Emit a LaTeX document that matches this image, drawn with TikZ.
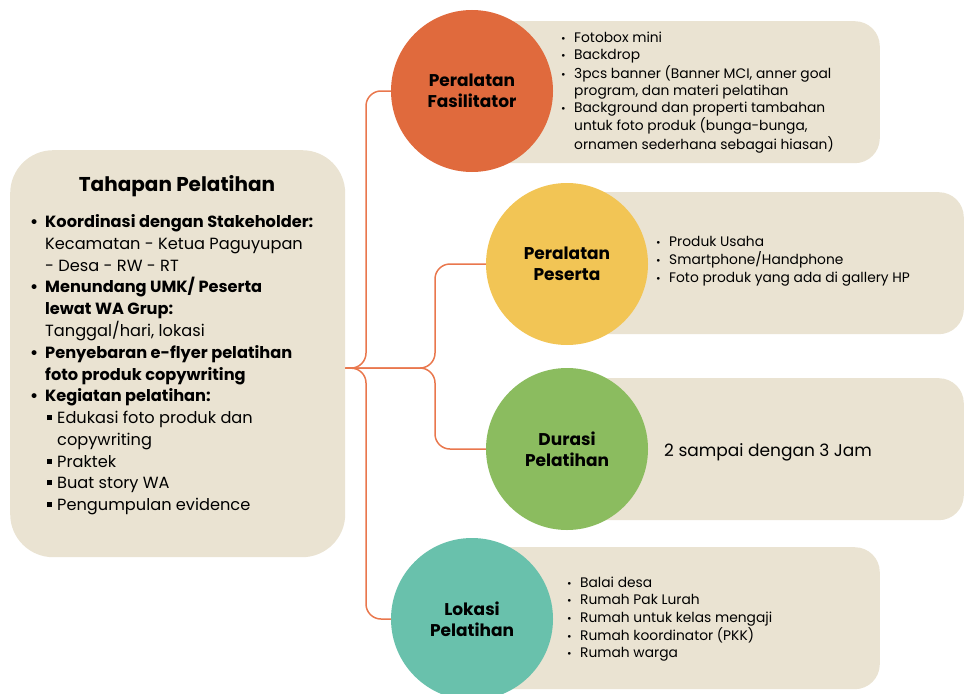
\documentclass[tikz,border=0pt]{standalone}
\usepackage{fontspec}
\setmainfont{Poppins}
\usetikzlibrary{calc}

\definecolor{krem}{HTML}{EAE3D2}
\definecolor{oranye}{HTML}{E06A3D}
\definecolor{kuning}{HTML}{F2C555}
\definecolor{hijau}{HTML}{8BBC5F}
\definecolor{tosca}{HTML}{69C1AC}
\definecolor{garis}{HTML}{E9774D}

\newcommand\bulbesar{{\bfseries\textbullet}}
\newcommand\bulkotak{\hspace*{2pt}\rule[0.22em]{0.3em}{0.3em}}
\newcommand\bulkecil{{\fontsize{11}{11}\selectfont\textbullet}}

\begin{document}
\begin{tikzpicture}[x=1pt,y=-1pt]
\tikzstyle{kotak}=[fill=krem,rounded corners=25pt,inner sep=0pt];
\tikzstyle{bulat}=[circle,inner sep=0pt,minimum size=162pt,align=center,font=\fontsize{17}{21}\selectfont\bfseries];
\tikzstyle{daftar}=[inner sep=0pt,anchor=base west,font=\fontsize{13.8}{17.4}\selectfont];
\tikzstyle{cabang}=[draw=garis,line width=1.5pt,rounded corners=15pt];

\useasboundingbox (0,0) rectangle (965,693);

% kotak kiri
\node[kotak,rounded corners=43pt,minimum width=335pt,minimum height=407pt,anchor=north west] (tahap) at (10,150) {};
\node[font=\fontsize{20}{24}\selectfont\bfseries] (judul) at (177,186) {Tahapan Pelatihan};
\node[inner sep=0pt,anchor=base west,font=\fontsize{16.2}{21.77}\selectfont] (tahapisi) at (30,227.5) {%
\begin{tabular}[t]{@{}p{15pt}@{}p{12pt}@{}l@{}}
\bulbesar & \multicolumn{2}{@{}l@{}}{\bfseries Koordinasi dengan Stakeholder:}\\
 & \multicolumn{2}{@{}l@{}}{Kecamatan - Ketua Paguyupan}\\
 & \multicolumn{2}{@{}l@{}}{- Desa - RW - RT}\\
\bulbesar & \multicolumn{2}{@{}l@{}}{\bfseries Menundang UMK/ Peserta}\\
 & \multicolumn{2}{@{}l@{}}{\bfseries lewat WA Grup:}\\
 & \multicolumn{2}{@{}l@{}}{Tanggal/hari, lokasi}\\
\bulbesar & \multicolumn{2}{@{}l@{}}{\bfseries Penyebaran e-flyer pelatihan}\\
 & \multicolumn{2}{@{}l@{}}{\bfseries foto produk copywriting}\\
\bulbesar & \multicolumn{2}{@{}l@{}}{\bfseries Kegiatan pelatihan:}\\
 & \bulkotak & Edukasi foto produk dan\\
 & & copywriting\\
 & \bulkotak & Praktek\\
 & \bulkotak & Buat story WA\\
 & \bulkotak & Pengumpulan evidence
\end{tabular}};

% kotak kanan
\node[kotak,minimum width=408pt,minimum height=142pt,anchor=north east] (fasilbox) at (880,21) {};
\node[kotak,minimum width=397pt,minimum height=142pt,anchor=north east] (pesertabox) at (964,192) {};
\node[kotak,minimum width=397pt,minimum height=142pt,anchor=north east] (durasibox) at (964,378) {};
\node[kotak,minimum width=408pt,minimum height=142pt,anchor=north east] (lokasibox) at (880,547) {};

\node[bulat,fill=oranye] (fasil) at (472,91) {Peralatan\\Fasilitator};
\node[bulat,fill=kuning] (peserta) at (567,264) {Peralatan\\Peserta};
\node[bulat,fill=hijau] (durasi) at (567,449) {Durasi\\Pelatihan};
\node[bulat,fill=tosca] (lokasi) at (472,619) {Lokasi\\Pelatihan};

\node[daftar] (fasillist) at (561,42.5) {%
\begin{tabular}[t]{@{}p{13pt}@{}l@{}}
\bulkecil & Fotobox mini\\
\bulkecil & Backdrop\\
\bulkecil & 3pcs banner (Banner MCI, anner goal\\
 & program, dan materi pelatihan\\
\bulkecil & Background dan properti tambahan\\
 & untuk foto produk (bunga-bunga,\\
 & ornamen sederhana sebagai hiasan)
\end{tabular}};
\node[daftar] (pesertalist) at (656,246.5) {%
\begin{tabular}[t]{@{}p{13pt}@{}l@{}}
\bulkecil & Produk Usaha\\
\bulkecil & Smartphone/Handphone\\
\bulkecil & Foto produk yang ada di gallery HP
\end{tabular}};
\node[daftar,font=\fontsize{17}{20}\selectfont] (durasiteks) at (664,456) {2 sampai dengan 3 Jam};
\node[daftar] (lokasilist) at (567,587.5) {%
\begin{tabular}[t]{@{}p{13pt}@{}l@{}}
\bulkecil & Balai desa\\
\bulkecil & Rumah Pak Lurah\\
\bulkecil & Rumah untuk kelas mengaji\\
\bulkecil & Rumah koordinator (PKK)\\
\bulkecil & Rumah warga
\end{tabular}};

\coordinate (jn) at ($(tahap.east)+(0,14.5)$);
\coordinate (ka) at (366,368);
\coordinate (kb) at (435,368);
\draw[cabang] (jn) -- (ka) |- (fasil.west);
\draw[cabang] (jn) -- (ka) |- (lokasi.west);
\draw[cabang] (jn) -- (kb) |- (peserta.west);
\draw[cabang] (jn) -- (kb) |- (durasi.west);

\end{tikzpicture}
\end{document}
